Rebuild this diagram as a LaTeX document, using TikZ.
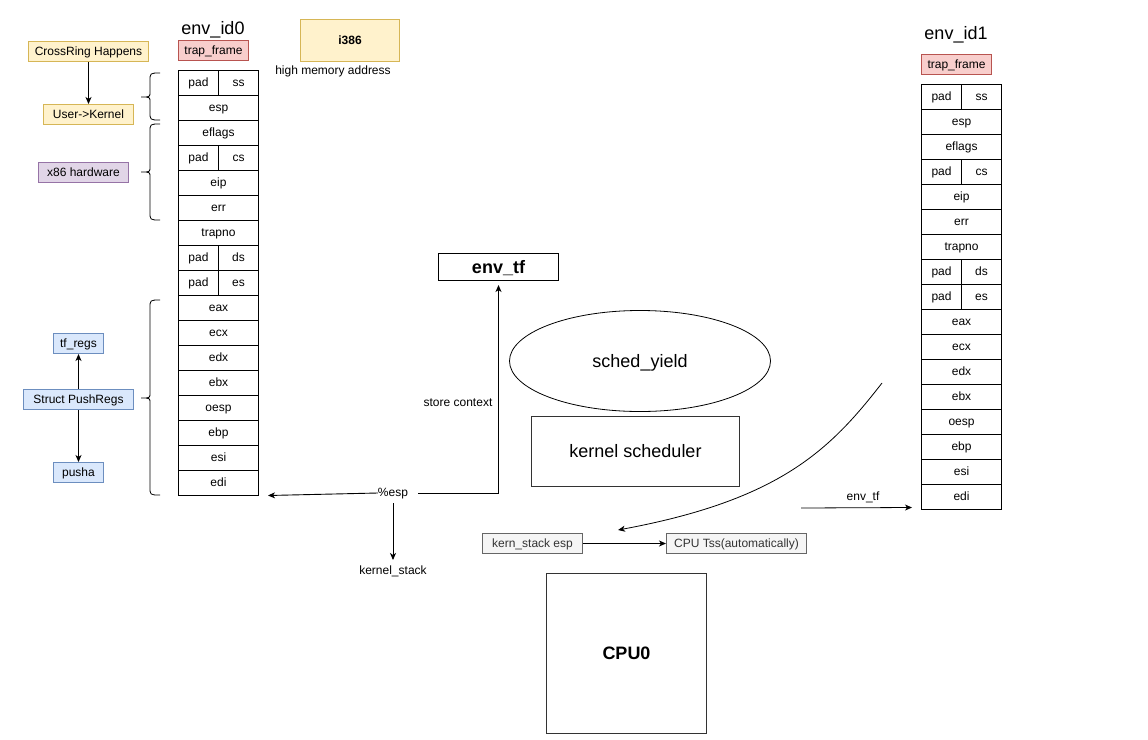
\documentclass[tikz,border=0pt]{standalone}
\usepackage{fontspec}
\setmainfont{Liberation Sans}
\usetikzlibrary{arrows.meta,shapes.geometric}
\definecolor{yfill}{HTML}{FFF2CC}\definecolor{ydraw}{HTML}{D6B656}
\definecolor{rfill}{HTML}{F8CECC}\definecolor{rdraw}{HTML}{B85450}
\definecolor{pfill}{HTML}{E1D5E7}\definecolor{pdraw}{HTML}{9673A6}
\definecolor{bfill}{HTML}{DAE8FC}\definecolor{bdraw}{HTML}{6C8EBF}
\definecolor{gfill}{HTML}{F5F5F5}\definecolor{gdraw}{HTML}{666666}\definecolor{gtext}{HTML}{333333}
\tikzset{
  base/.style={font=\fontsize{12}{14}\selectfont, inner sep=0pt, text height=9.8pt, text depth=2.3pt},
  bigtxt/.style={inner sep=0pt, text height=15.5pt, text depth=3.5pt},
  big/.style={font=\fontsize{18}{21}\selectfont, bigtxt},
  bigb/.style={font=\fontsize{18}{21}\selectfont\bfseries, bigtxt},
  cell/.style={base, draw, line width=1pt, minimum height=25pt, anchor=north west},
  boxnw/.style={draw, line width=1pt, anchor=north west, inner sep=0pt},
  yel/.style={boxnw, base, fill=yfill, draw=ydraw},
  red/.style={boxnw, base, fill=rfill, draw=rdraw},
  pur/.style={boxnw, base, fill=pfill, draw=pdraw},
  blu/.style={boxnw, base, fill=bfill, draw=bdraw},
  gry/.style={boxnw, base, fill=gfill, draw=gdraw, text=gtext},
  arr/.style={-{Stealth[length=7pt,width=6pt,inset=2pt]}, line width=0.9pt},
}
\newcommand\regstack[3]{%
  \foreach \i/\t in {1/esp,2/eflags,4/eip,5/err,6/trapno,9/eax,10/ecx,11/edx,12/ebx,13/oesp,14/ebp,15/esi,16/edi}
    \node[cell, minimum width=80pt] (#1-\t) at ({#2},{#3+25*\i}) {\t};
  \foreach \i/\t in {0/ss,3/cs,7/ds,8/es}{
    \node[cell, minimum width=40pt] (#1-pad\t) at ({#2},{#3+25*\i}) {pad};
    \node[cell, minimum width=40pt] (#1-\t) at ({#2+40},{#3+25*\i}) {\t};
  }%
}
\newcommand\mybrace[3]{%
  \draw[line width=0.8pt] (160,#1) .. controls (150,#1) .. (150,{#1+8}) -- (150,{#3-5})
    .. controls (150,#3) .. (141,#3) .. controls (150,#3) .. (150,{#3+5})
    -- (150,{#2-8}) .. controls (150,#2) .. (160,#2);}
\begin{document}
\begin{tikzpicture}[x=1pt,y=-1pt]
\useasboundingbox (0,0) rectangle (1148,739);
% left stack
\node[big] (id0) at (213,28) {env\_id0};
\node[red, minimum width=70pt, minimum height=20pt] (tf0) at (178,40) {trap\_frame};
\regstack{a}{178}{70}
% right stack
\node[big] (id1) at (956,33) {env\_id1};
\node[red, minimum width=70pt, minimum height=20pt] (tf1) at (921,54) {trap\_frame};
\regstack{b}{921}{84}
% i386
\node[yel, minimum width=99pt, minimum height=42pt, font=\fontsize{12}{14}\selectfont\bfseries] (i386) at (300,19) {i386};
\node[base] (hma) at (333,71) {high memory address};
% left labels
\node[yel, minimum width=120pt, minimum height=20pt] (cross) at (28,41) {CrossRing Happens};
\node[yel, minimum width=90pt, minimum height=20pt] (userk) at (43,104) {User->Kernel};
\draw[arr] (cross) -- (userk);
\node[pur, minimum width=90pt, minimum height=20pt] (x86) at (38,162) {x86 hardware};
\node[blu, minimum width=50pt, minimum height=20pt] (tfregs) at (53,333) {tf\_regs};
\node[blu, minimum width=110pt, minimum height=20pt] (spr) at (23,389) {Struct PushRegs};
\node[blu, minimum width=50pt, minimum height=20pt] (pusha) at (53,462) {pusha};
\draw[arr] (spr) -- (tfregs);
\draw[arr] (spr) -- (pusha);
% braces
\mybrace{73}{120}{97}
\mybrace{124}{220}{172}
\mybrace{300}{495}{398}
% middle
\node[boxnw, bigb, minimum width=120pt, minimum height=27pt] (envtf) at (438,253) {env\_tf};
\node[draw, ellipse, line width=0.8pt, minimum width=261pt, minimum height=101pt, big] (sy) at (640,361) {sched\_yield};
\node[boxnw, big, draw=black!80, minimum width=208pt, minimum height=70pt] (ks) at (531,416) {kernel scheduler};
\node[base] (esp) at (393,493) {\%esp};
\coordinate (espend) at (268,495.5);
\draw[arr] (esp.west) -- (espend);
\draw[arr] (418,493) -| ([yshift=-4pt]envtf.south);
\node[base] (sc) at (458,403) {store context};
\node[base] (kst) at (393,571) {kernel\_stack};
\draw[arr] (393,503) -- (393,560);
\node[gry, minimum width=100pt, minimum height=20pt] (kse) at (482,533) {kern\_stack esp};
\node[gry, minimum width=140pt, minimum height=20pt] (tss) at (666,533) {CPU Tss(automatically)};
\draw[arr] (kse) -- (tss);
\coordinate (cs) at (882,383);
\coordinate (ce) at (618,530);
\draw[arr, line width=0.8pt] (cs) .. controls (830,450) and (780,500) .. (ce);
\coordinate (ts) at (801,508);
\coordinate (te) at (912,507.5);
\draw[arr, line width=0.8pt] (ts) -- (te);
\node[base] (etl) at (863,497) {env\_tf};
\node[boxnw, bigb, draw=black!80, minimum width=160pt, minimum height=160pt] (cpu) at (546,573) {CPU0};
\end{tikzpicture}
\end{document}
